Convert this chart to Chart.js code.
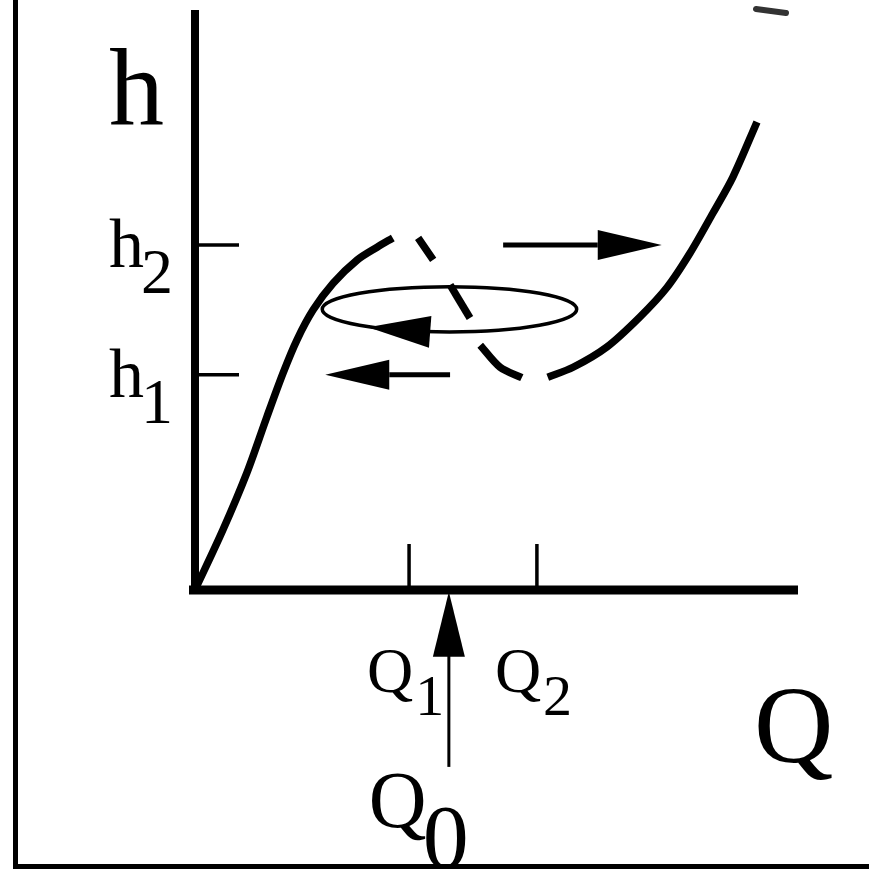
<!DOCTYPE html>
<html>
<head>
<meta charset="utf-8">
<script src="https://cdn.jsdelivr.net/npm/chart.js@4.4.1/dist/chart.umd.min.js"></script>
<style>
  html, body { margin: 0; padding: 0; background: #fff; }
</style>
</head>
<body>
<canvas id="chart" width="869" height="869"></canvas>
<script>
// h(Q) characteristic: stable lower branch, unstable middle branch (dashed), stable upper branch
const lowerQ = [0, 0.46, 0.86, 1.19, 1.46, 1.69, 1.96, 2.29, 2.69, 3.02, 3.28]
const lowerH = [0, 1.03, 2.02, 2.98, 3.74, 4.31, 4.83, 5.29, 5.69, 5.91, 6.07]
const middleQ = [[3.70, 3.95], [4.23, 4.56], [4.73, 5.06, 5.42]]
const middleH = [[6.07, 5.69], [5.26, 4.69], [4.22, 3.84, 3.66]]
const upperQ = [5.85, 6.27, 6.83, 7.38, 7.83, 8.21, 8.59, 8.92, 9.32]
const upperH = [3.67, 3.84, 4.19, 4.71, 5.22, 5.81, 6.50, 7.12, 8.07]

// marked levels on the axes
const qTickValues = [3.55, 5.67]
const qTickSubs = ["1", "2"]
const hTickValues = [3.71, 5.95]
const hTickSubs = ["1", "2"]

// operating point Q0 and its pointer (from below the axis up to it)
const q0Value = 4.21
const q0ArrowH = [-3.05, -0.03]

// jumps between branches: [fromQ, toQ] at level h
const jumpFromQ = [5.11, 4.23]
const jumpToQ = [7.74, 2.16]
const jumpH = [5.95, 3.71]

// relaxation cycle around the unstable branch
const cycleCenter = [4.22, 4.84]
const cycleRadii = [2.11, 0.39]
const cycleArrowTip = [2.87, 4.53]
const cycleArrowBase = [3.90, 4.45]

const INK = "#000"
const SERIF = '"Liberation Serif", "DejaVu Serif", serif'

function toPoints(qs, hs) {
  return qs.map((q, i) => ({ x: q, y: hs[i] }))
}

function branch(qs, hs) {
  return {
    data: toPoints(qs, hs),
    showLine: true,
    borderColor: INK,
    borderWidth: 7.5,
    pointRadius: 0,
    tension: 0.3,
    borderCapStyle: "butt",
    clip: false,
  }
}

function arrowHead(ctx, tx, ty, bx, by, half) {
  const dx = tx - bx, dy = ty - by
  const len = Math.hypot(dx, dy)
  const nx = -dy / len, ny = dx / len
  ctx.beginPath()
  ctx.moveTo(tx, ty)
  ctx.lineTo(bx + nx * half, by + ny * half)
  ctx.lineTo(bx - nx * half, by - ny * half)
  ctx.closePath()
  ctx.fill()
}

function line(ctx, x1, y1, x2, y2, w) {
  ctx.lineWidth = w
  ctx.beginPath()
  ctx.moveTo(x1, y1)
  ctx.lineTo(x2, y2)
  ctx.stroke()
}

function label(ctx, main, sub, x, y, size, subSize, subDx, subDy) {
  ctx.font = size + "px " + SERIF
  ctx.fillText(main, x, y)
  const w = ctx.measureText(main).width
  if (sub) {
    ctx.font = subSize + "px " + SERIF
    ctx.fillText(sub, x + w + subDx, y + subDy)
  }
}

const figure = {
  id: "figure",
  beforeDatasetsDraw(chart) {
    const { ctx, scales: { x, y } } = chart
    const x0 = x.getPixelForValue(0)
    const y0 = y.getPixelForValue(0)
    ctx.save()
    ctx.strokeStyle = INK
    ctx.lineCap = "butt"
    // outer frame
    line(ctx, 15.5, 0, 15.5, 869, 5)
    line(ctx, 13, 866.5, 869, 866.5, 5)
    // stray stroke of the neighbouring panel at the top edge
    ctx.lineCap = "round"
    ctx.strokeStyle = "#333"
    line(ctx, 756, 9, 786, 13, 6)
    ctx.strokeStyle = INK
    ctx.lineCap = "butt"
    // axes
    line(ctx, x0, y.getPixelForValue(y.max), x0, y0 + 4, 8)
    line(ctx, x0 - 6, y0, x.getPixelForValue(x.max), y0, 9)
    // tick marks pointing into the plot
    qTickValues.forEach((v) => {
      const px = x.getPixelForValue(v)
      line(ctx, px, y0, px, y0 - 46, 3.5)
    })
    hTickValues.forEach((v) => {
      const py = y.getPixelForValue(v)
      line(ctx, x0, py, x0 + 44, py, 3.5)
    })
    ctx.restore()
  },
  afterDatasetsDraw(chart) {
    const { ctx, scales: { x, y } } = chart
    const x0 = x.getPixelForValue(0)
    const y0 = y.getPixelForValue(0)
    ctx.save()
    ctx.strokeStyle = INK
    ctx.fillStyle = INK

    // cycle ellipse
    const cx = x.getPixelForValue(cycleCenter[0])
    const cy = y.getPixelForValue(cycleCenter[1])
    const rx = x.getPixelForValue(cycleCenter[0] + cycleRadii[0]) - cx
    const ry = cy - y.getPixelForValue(cycleCenter[1] + cycleRadii[1])
    ctx.lineWidth = 3.5
    ctx.beginPath()
    ctx.ellipse(cx, cy, rx, ry, 0, 0, Math.PI * 2)
    ctx.stroke()
    arrowHead(ctx,
      x.getPixelForValue(cycleArrowTip[0]), y.getPixelForValue(cycleArrowTip[1]),
      x.getPixelForValue(cycleArrowBase[0]), y.getPixelForValue(cycleArrowBase[1]), 16)

    // horizontal jumps
    jumpH.forEach((h, i) => {
      const py = y.getPixelForValue(h)
      const fx = x.getPixelForValue(jumpFromQ[i])
      const tx = x.getPixelForValue(jumpToQ[i])
      const dir = Math.sign(tx - fx)
      const bx = tx - dir * 64
      line(ctx, fx, py, bx, py, 5)
      arrowHead(ctx, tx, py, bx, py, 15)
    })

    // Q0 pointer
    const qx = x.getPixelForValue(q0Value)
    const yBottom = y.getPixelForValue(q0ArrowH[0])
    const yTip = y.getPixelForValue(q0ArrowH[1])
    line(ctx, qx, yBottom, qx, yTip + 60, 3)
    arrowHead(ctx, qx, yTip, qx, yTip + 65, 16)

    // labels
    ctx.textAlign = "left"
    ctx.textBaseline = "alphabetic"
    ctx.font = "110px " + SERIF
    ctx.fillText("h", x0 - 86, y.getPixelForValue(y.max) + 115)
    hTickValues.forEach((v, i) => {
      const py = y.getPixelForValue(v)
      label(ctx, "h", hTickSubs[i], x0 - 86, py + 22, 70, 64, -3, 26)
    })
    qTickValues.forEach((v, i) => {
      const px = x.getPixelForValue(v)
      label(ctx, "Q", qTickSubs[i], px - 42, y0 + 102, 64, 58, 2, 23)
    })
    ctx.font = "110px " + SERIF
    ctx.fillText("Q", x.getPixelForValue(x.max) - 44, y0 + 172)
    label(ctx, "Q", "0", qx - 80, y0 + 237, 80, 92, -4, 41)
    ctx.restore()
  },
}

new Chart(document.getElementById("chart"), {
  type: "scatter",
  data: {
    datasets: [
      branch(lowerQ, lowerH),
      ...middleQ.map((qs, i) => branch(qs, middleH[i])),
      branch(upperQ, upperH),
    ],
  },
  options: {
    responsive: false,
    animation: false,
    devicePixelRatio: 1,
    layout: { padding: { left: 195, right: 71, top: 10, bottom: 279 } },
    scales: {
      x: { type: "linear", min: 0, max: 10, display: false },
      y: { type: "linear", min: 0, max: 10, display: false },
    },
    plugins: {
      legend: { display: false },
      tooltip: { enabled: false },
    },
  },
  plugins: [figure],
})
</script>
</body>
</html>
